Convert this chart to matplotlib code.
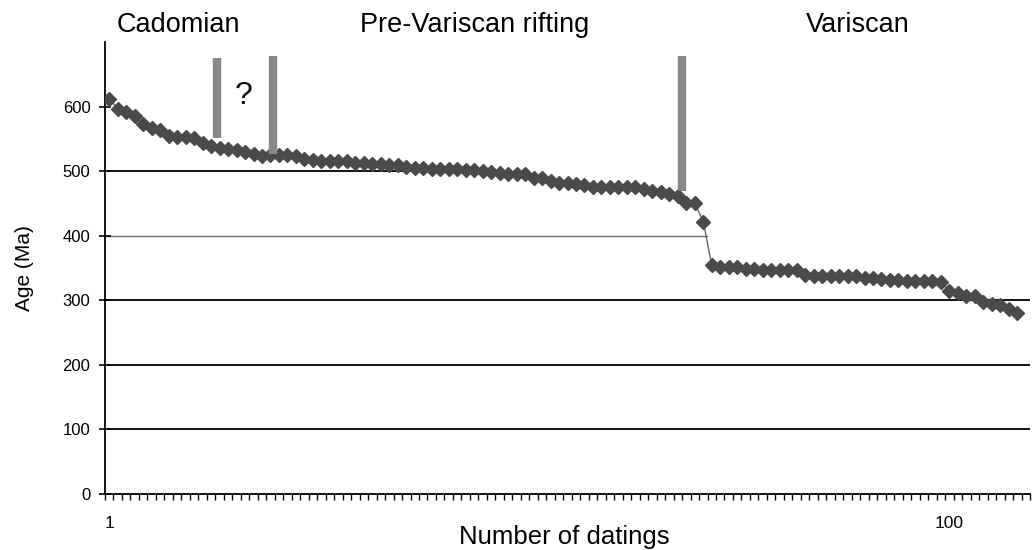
import matplotlib
matplotlib.use("Agg")
import matplotlib.pyplot as plt
import numpy as np

plt.rcParams['font.family'] = ['Liberation Sans', 'DejaVu Sans']

# Ages (Ma) sorted, one per dating
ages = [612, 597, 591, 586, 573, 567, 563, 555, 553, 553,
        552, 544, 539, 536, 535, 533, 529, 527, 524, 525,
        525, 525, 524, 519, 518, 516, 516, 515, 515, 513,
        513, 511, 511, 510, 510, 507, 505, 505, 504, 504,
        503, 503, 502, 501, 500, 498, 497, 496, 496, 495,
        490, 489, 485, 482, 481, 480, 478, 476, 475, 475,
        475, 476, 475, 473, 470, 467, 465, 462, 451, 450,
        422, 354, 351, 351, 351, 349, 349, 347, 347, 347,
        347, 347, 339, 337, 337, 337, 337, 337, 337, 335,
        335, 333, 331, 331, 330, 330, 330, 330, 328, 315,
        311, 307, 307, 298, 295, 292, 287, 281]
n_index = list(range(1, len(ages) + 1))

y_ticks = [0, 100, 200, 300, 400, 500, 600]
x_tick_labels = {1: "1", 100: "100"}

period_labels = ["Cadomian", "Pre-Variscan rifting", "Variscan"]
# boundary bars: (x position in datings, bottom age, top age)
bar_x = [13.7, 20.3, 68.5]
bar_bottom = [552, 527, 470]
bar_top = [675, 678, 678]

fig = plt.figure(figsize=(10.34, 5.5), dpi=100)
ax = fig.add_axes([105/1034, 56/550, 925/1034, 452/550])

n_cats = 109
ax.set_xlim(0.5, n_cats + 0.5)
ax.set_ylim(0, 700)

# gridlines (partially drawn as in the original)
for v in [100, 200, 300]:
    ax.plot([0.5, n_cats + 0.5], [v, v], color='black', lw=1.3, zorder=1)
ax.plot([0.5, 71.4], [400, 400], color='#6e6e6e', lw=1.0, zorder=1)
ax.plot([0.5, 38.8], [500, 500], color='black', lw=1.3, zorder=1)

ax.plot(n_index, ages, color='#666666', lw=1.0, marker='D', markersize=7,
        markerfacecolor='#4a4a4a', markeredgecolor='#4a4a4a', zorder=3)

for bx, bb, bt in zip(bar_x, bar_bottom, bar_top):
    ax.plot([bx, bx], [bb, bt], color='#888888', lw=6, solid_capstyle='butt',
            zorder=4)

ax.text(16.8, 617, "?", fontsize=23, ha='center', va='center', color='#111111')

for s in ['top', 'right']:
    ax.spines[s].set_visible(False)
for s in ['left', 'bottom']:
    ax.spines[s].set_linewidth(1.3)
    ax.spines[s].set_color('black')

ax.set_yticks(y_ticks)
ax.set_yticklabels([str(v) for v in y_ticks], fontsize=12)
ax.tick_params(axis='y', direction='inout', length=9, width=1.2, pad=6)

ax.set_xticks(np.arange(0.5, n_cats + 1, 1.0), minor=True)
ax.set_xticks(list(x_tick_labels.keys()))
ax.set_xticklabels(list(x_tick_labels.values()), fontsize=12.5)
ax.tick_params(axis='x', which='major', length=0, pad=16)
ax.tick_params(axis='x', which='minor', direction='out', length=4, width=1.0)

ax.set_xlabel("Number of datings", fontsize=18.5)
ax.xaxis.set_label_coords(0.497, -0.095)
ax.xaxis.label.set_verticalalignment('center')
ax.set_ylabel("Age (Ma)", fontsize=15)
ax.yaxis.set_label_coords(-0.0865, 0.5)
ax.yaxis.label.set_verticalalignment('center')

label_x = [178, 475, 858]
for lx, t in zip(label_x, period_labels):
    fig.text(lx/1034, 1 - 25/550, t, fontsize=19.5, ha='center', va='center')

fig.savefig("out.png", dpi=100)
